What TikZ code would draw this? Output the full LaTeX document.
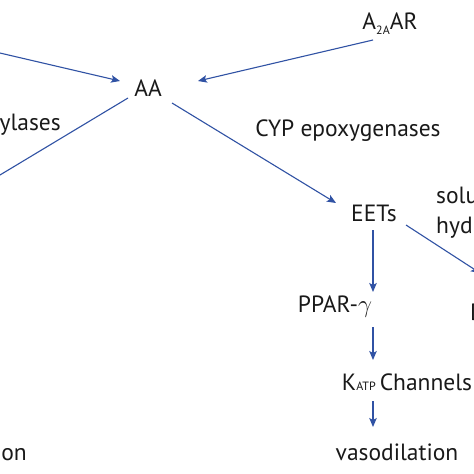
\documentclass[tikz,border=0pt]{standalone}
\usepackage{fontspec}
\setmainfont{PT Sans}
\usetikzlibrary{arrows.meta}
\definecolor{lineblue}{RGB}{48,82,164}
\definecolor{txt}{RGB}{25,25,25}
\begin{document}
\begin{tikzpicture}[x=1pt,y=-1pt,
  lbl/.style={inner sep=0pt,text=txt,font=\fontsize{23.5}{28}\selectfont},
  conn/.style={draw=lineblue,line width=1.1pt},
  arr/.style={conn,-{Stealth[length=9pt,width=7.5pt,inset=2pt]}}]
\useasboundingbox (0,0) rectangle (474,474);
\clip (0,0) rectangle (474,474);
\fill[white] (0,0) rectangle (474,474);
% nodes
\node[lbl] (AA) at (148,88) {AA};
\node[lbl] (A2AR) at (390,24) {A\raisebox{-5pt}{\fontsize{12}{12}\selectfont 2A}AR};
\node[lbl] (EETs) at (374,213) {EETs};
\node[lbl] (PPAR) at (335,307) {PPAR-$\gamma$};
\node[lbl] (KATP) at (407,382) {K{\fontsize{12}{12}\selectfont ATP}\,Channels};
\node[lbl] (vaso) at (397,452) {vasodilation};
\node[lbl,anchor=base east] (hyd) at (61,130) {hydroxylases};
\node[lbl,anchor=base east] (vcon) at (27,460) {vasoconstriction};
\node[lbl] (cyp) at (348,131) {CYP epoxygenases};
\node[lbl,anchor=base west] (sol1) at (436,203) {soluble epoxide};
\node[lbl,anchor=base west] (sol2) at (436,233) {hydrolase};
\node[lbl,anchor=west] (DHETs) at (470,312) {DHETs};
% free ends
\coordinate (inL) at (-10,50.7);
\coordinate (outL) at (-10,181);
% connectors
\draw[arr] (inL) -- ([shift={(-28,-7)}]AA.center);
\draw[arr] ([shift={(-17,16)}]A2AR.center) -- ([shift={(50,-7)}]AA.center);
\draw[conn] ([shift={(-20,10)}]AA.center) -- (outL);
\draw[arr] ([shift={(24,15)}]AA.center) -- ([shift={(-38,-10)}]EETs.center);
\draw[arr] ([shift={(32,12)}]EETs.center) -- ([shift={(10,-39)}]DHETs.west);
\draw[arr] ([shift={(-1,17)}]EETs.center) -- ([shift={(38,-15)}]PPAR.center);
\draw[arr] ([shift={(38,20)}]PPAR.center) -- ([shift={(-34,-22)}]KATP.center);
\draw[arr] ([shift={(-34,19)}]KATP.center) -- ([shift={(-24,-25)}]vaso.center);
\end{tikzpicture}
\end{document}
